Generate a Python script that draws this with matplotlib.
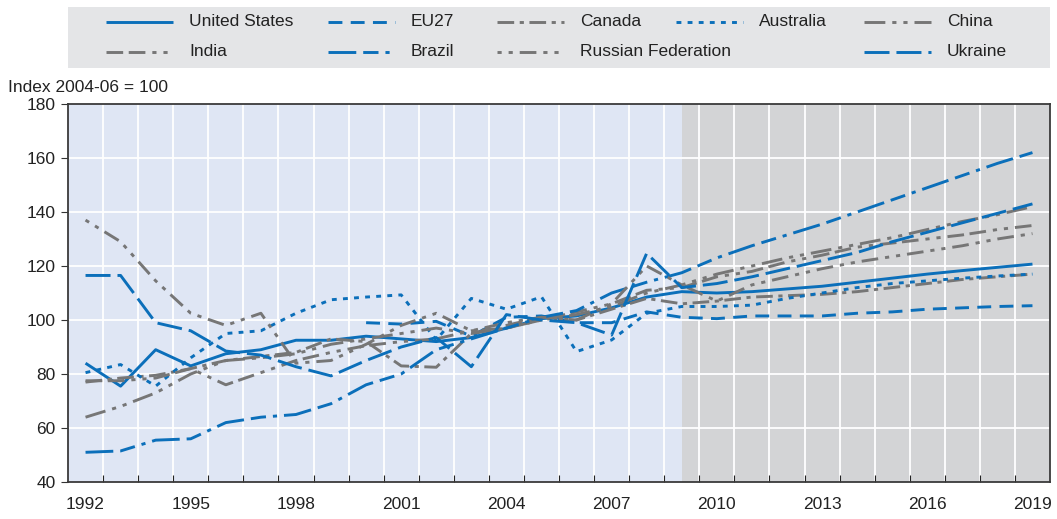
import numpy as np
import matplotlib
matplotlib.use("Agg")
import matplotlib.pyplot as plt
from matplotlib.ticker import FixedLocator

plt.rcParams['font.family'] = ['Liberation Sans Narrow', 'Liberation Sans', 'DejaVu Sans']
plt.rcParams['lines.scale_dashes'] = False

# ---- data (index 2004-06 = 100) ----
years = list(range(1992, 2020))
nan = np.nan

united_states = [84, 75.5, 89, 83, 87.5, 89, 92.5, 92.5, 94, 93,
                 92, 93.5, 97, 100.5, 101.5, 104.5, 108.5, 110.5, 110, 110.5,
                 111.5, 112.5, 114, 115.5, 117, 118.3, 119.5, 120.7]
eu27 = [nan, nan, nan, nan, nan, nan, nan, nan, 99, 98.5,
        99.5, 94, 101, 101.5, 99, 99, 103, 101, 100.5, 101.5,
        101.5, 101.5, 102.5, 103, 104, 104.5, 105, 105.3]
canada = [77, 78.5, 79.5, 82, 85, 86.5, 88, 93, 92, 83,
          82.5, 95, 98, 101, 100, 104, 108, 106, 107, 108.5,
          109, 109.5, 110.5, 112, 113.5, 115, 116, 117]
australia = [80.5, 83.5, 75.5, 86, 95, 96, 102.5, 107.5, 108.5, 109.3,
             92.6, 108, 104, 108.6, 88.3, 92.6, 102.5, 105, 105, 105.5,
             108, 110, 112, 113.5, 114.5, 115.5, 116.3, 117]
china = [64, 68, 73, 80, 85, 86, 87.5, 91, 93, 95,
         97, 95, 97, 100, 102, 105, 110, 113, 117, 120,
         123, 125.5, 128, 130.5, 133.5, 136.5, 139, 142]
india = [77.5, 77.5, 78.5, 82, 76, 80.5, 85, 88, 90.5, 92,
         93, 96, 97, 100, 103, 106, 111, 112, 116, 118,
         121.5, 124, 127, 128.5, 130, 131.5, 133.5, 135]
brazil = [51, 51.5, 55.5, 56, 62, 64, 65, 69, 76, 80,
          89, 93, 97, 101, 103.5, 110, 114, 117.5, 123, 127.5,
          131.5, 135.5, 140, 144.5, 149, 153.5, 158, 162]
russia = [137, 129, 114.5, 102.5, 98, 102.5, 84, 85, 91, 98,
          102.5, 96, 99, 101, 100, 106, 120, 113, 107, 113,
          116, 119, 121.5, 123.5, 125.5, 127.5, 130, 132]
ukraine = [116.5, 116.5, 99, 96, 88.5, 87, 82.7, 79.3, 85, 90,
           93.5, 82.7, 102, 100, 99, 94.4, 124.7, 112, 113.5, 116,
           119, 122, 125, 129, 132.5, 136, 139.5, 143]

BLUE = '#0b6fba'
GREY = '#767676'

# name, values, colour, dash pattern (points)
series = [
    ("United States", united_states, BLUE, None),
    ("EU27", eu27, BLUE, (10, 6)),
    ("Canada", canada, GREY, (12, 4, 3, 4)),
    ("Australia", australia, BLUE, (3.5, 4.5)),
    ("China", china, GREY, (15, 5, 3, 5, 3, 5)),
    ("India", india, GREY, (12, 4, 12, 5, 3, 5, 3, 5)),
    ("Brazil", brazil, BLUE, (20, 5, 11, 5, 3, 5)),
    ("Russian Federation", russia, GREY, (3, 5, 3, 5, 12, 5)),
    ("Ukraine", ukraine, BLUE, (18, 5)),
]

W, H = 1057, 519
fig = plt.figure(figsize=(W / 100, H / 100), dpi=100)

# ---- main plot ----
L, R, T, B = 68, 1050, 104, 482
ax = fig.add_axes([L / W, 1 - B / H, (R - L) / W, (B - T) / H])
ax.set_xlim(1991.5, 2019.5)
ax.set_ylim(40, 180)
ax.set_facecolor('#dfe6f4')
ax.axvspan(2009, 2019.5, color='#d3d4d6', zorder=0, lw=0)

for y in range(60, 180, 20):
    ax.axhline(y, color='white', lw=1.3, zorder=1)
for x in np.arange(1992.5, 2019, 1):
    ax.axvline(x, color='white', lw=1.3, zorder=1)

lw = 2.1
for name, vals, col, dash in series:
    line, = ax.plot(years, vals, color=col, lw=lw, zorder=3,
                    solid_capstyle='butt', dash_capstyle='butt')
    if dash is not None:
        line.set_dashes(dash)

ax.xaxis.set_major_locator(FixedLocator(list(range(1992, 2020, 3))))
ax.xaxis.set_minor_locator(FixedLocator(list(np.arange(1992.5, 2019, 1))))
ax.tick_params(axis='x', which='major', length=0, pad=11, labelsize=12.5, colors='#222222')
ax.tick_params(axis='x', which='minor', length=5, direction='in', color='#222222', width=0.8)
ax.set_yticks(range(40, 181, 20))
ax.tick_params(axis='y', length=5, width=0.8, color='#333333', pad=4, labelsize=12.5, labelcolor='#222222')
for s in ax.spines.values():
    s.set_color('#3a3a3a')
    s.set_linewidth(1.3)

fig.text(8 / W, 1 - 87 / H, "Index 2004-06 = 100", fontsize=12.5, color='#222222', va='center')

# ---- legend box ----
leg = fig.add_axes([L / W, 1 - 68 / H, (R - L) / W, (68 - 7) / H])
leg.set_xlim(L, R)
leg.set_ylim(68, 7)
leg.set_facecolor('#e4e5e7')
leg.set_xticks([])
leg.set_yticks([])
for s in leg.spines.values():
    s.set_visible(False)

cols = [106, 328, 497, 676, 864]
slots = [(0, 0), (0, 1), (0, 2), (0, 3), (0, 4),
         (1, 0), (1, 1), (1, 2), (1, 4)]
rows = [22, 52]
for (name, vals, col, dash), (r, c) in zip(series, slots):
    x0, y0 = cols[c], rows[r]
    ln, = leg.plot([x0, x0 + 67], [y0, y0], color=col, lw=lw,
                   solid_capstyle='butt', dash_capstyle='butt')
    if dash is not None:
        ln.set_dashes(dash)
    leg.text(x0 + 83, y0, name, va='center', ha='left', fontsize=12.5, color='#222222')

fig.savefig("out.png", dpi=100)
